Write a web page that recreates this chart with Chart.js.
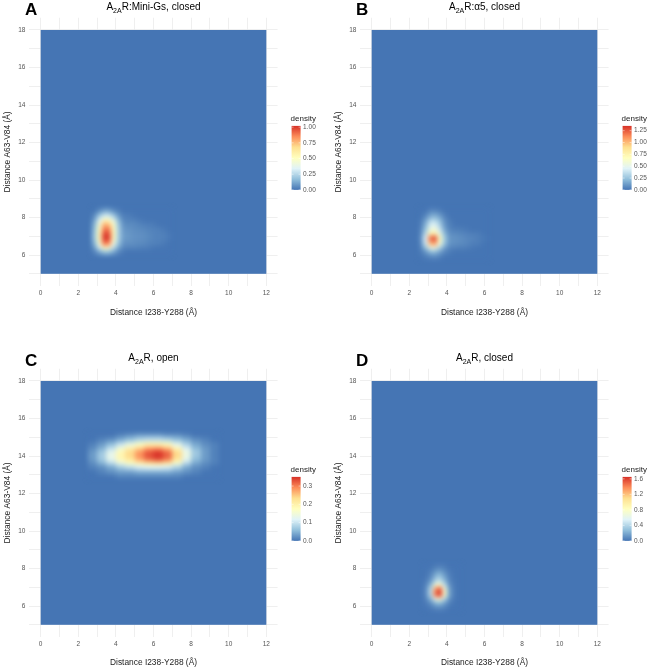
<!DOCTYPE html>
<html>
<head>
<meta charset="utf-8">
<script src="https://cdn.jsdelivr.net/npm/chart.js@4.4.0/dist/chart.umd.min.js"></script>
<style>
  html, body { margin: 0; padding: 0; background: #fff; }
  body { width: 656px; height: 668px; position: relative; overflow: hidden; }
  canvas { position: absolute; }
</style>
</head>
<body>
<canvas id="chartA" width="328" height="334" style="left:0px;top:0px"></canvas>
<canvas id="chartB" width="325" height="334" style="left:331px;top:0px"></canvas>
<canvas id="chartC" width="328" height="334" style="left:0px;top:334px"></canvas>
<canvas id="chartD" width="325" height="334" style="left:331px;top:334px"></canvas>
<script>
// axes
const xTicks = [0, 1, 2, 3, 4, 5, 6, 7, 8, 9, 10, 11, 12];
const yTicks = [5, 6, 7, 8, 9, 10, 11, 12, 13, 14, 15, 16, 17, 18];
const rasterX = [0, 12];
const rasterY = [5, 18];
const xTitle = 'Distance I238-Y288 (Å)';
const yTitle = 'Distance A63-V84 (Å)';

// panel titles: normal, subscript, normal
const aTitle = ['A', '2A', 'R:Mini-Gs, closed'];
const bTitle = ['A', '2A', 'R:α5, closed'];
const cTitle = ['A', '2A', 'R, open'];
const dTitle = ['A', '2A', 'R, closed'];

// A: density cells (cell centres, rows top to bottom)
const aColsX = [2.875, 3.125, 3.375, 3.625, 3.875, 4.125, 4.375, 4.625, 4.875, 5.125, 5.375, 5.625, 5.875, 6.125, 6.375, 6.625, 6.875];
const aRowsY = [8.375, 8.125, 7.875, 7.625, 7.375, 7.125, 6.875, 6.625, 6.375, 6.125];
const aDensity = [
  [0.00, 0.05, 0.10, 0.10, 0.05, 0.02, 0.00, 0.00, 0.00, 0.00, 0.00, 0.00, 0.00, 0.00, 0.00, 0.00, 0.00],
  [0.05, 0.20, 0.30, 0.30, 0.20, 0.08, 0.02, 0.02, 0.01, 0.00, 0.00, 0.00, 0.00, 0.00, 0.00, 0.00, 0.00],
  [0.10, 0.35, 0.52, 0.52, 0.38, 0.15, 0.04, 0.03, 0.03, 0.02, 0.01, 0.00, 0.00, 0.00, 0.00, 0.00, 0.00],
  [0.15, 0.45, 0.78, 0.75, 0.48, 0.20, 0.06, 0.05, 0.05, 0.04, 0.03, 0.02, 0.02, 0.01, 0.00, 0.00, 0.00],
  [0.18, 0.52, 0.90, 0.90, 0.52, 0.22, 0.08, 0.07, 0.06, 0.05, 0.05, 0.04, 0.03, 0.03, 0.02, 0.01, 0.00],
  [0.20, 0.56, 1.00, 0.98, 0.54, 0.22, 0.09, 0.08, 0.07, 0.06, 0.06, 0.05, 0.04, 0.03, 0.03, 0.02, 0.01],
  [0.20, 0.56, 1.02, 1.00, 0.52, 0.22, 0.09, 0.08, 0.07, 0.06, 0.06, 0.05, 0.04, 0.03, 0.03, 0.02, 0.01],
  [0.15, 0.46, 0.90, 0.85, 0.42, 0.18, 0.07, 0.06, 0.06, 0.05, 0.05, 0.04, 0.03, 0.03, 0.02, 0.01, 0.00],
  [0.08, 0.30, 0.50, 0.46, 0.26, 0.10, 0.04, 0.03, 0.03, 0.03, 0.02, 0.02, 0.01, 0.00, 0.00, 0.00, 0.00],
  [0.03, 0.10, 0.16, 0.16, 0.10, 0.04, 0.01, 0.00, 0.00, 0.00, 0.00, 0.00, 0.00, 0.00, 0.00, 0.00, 0.00]
];
const aMax = 1.02;
const aLegendTicks = [0, 0.25, 0.5, 0.75, 1.0];

// B
const bColsX = [2.625, 2.875, 3.125, 3.375, 3.625, 3.875, 4.125, 4.375, 4.625, 4.875, 5.125, 5.375, 5.625, 5.875, 6.125];
const bRowsY = [8.375, 8.125, 7.875, 7.625, 7.375, 7.125, 6.875, 6.625, 6.375, 6.125, 5.875];
const bDensity = [
  [0.00, 0.00, 0.05, 0.05, 0.03, 0.00, 0.00, 0.00, 0.00, 0.00, 0.00, 0.00, 0.00, 0.00, 0.00],
  [0.00, 0.05, 0.15, 0.18, 0.12, 0.04, 0.00, 0.00, 0.00, 0.00, 0.00, 0.00, 0.00, 0.00, 0.00],
  [0.02, 0.12, 0.30, 0.32, 0.22, 0.08, 0.02, 0.00, 0.00, 0.00, 0.00, 0.00, 0.00, 0.00, 0.00],
  [0.03, 0.18, 0.42, 0.45, 0.30, 0.10, 0.03, 0.01, 0.00, 0.00, 0.00, 0.00, 0.00, 0.00, 0.00],
  [0.05, 0.25, 0.55, 0.60, 0.40, 0.15, 0.05, 0.03, 0.03, 0.02, 0.01, 0.00, 0.00, 0.00, 0.00],
  [0.06, 0.35, 0.80, 0.85, 0.55, 0.22, 0.08, 0.07, 0.06, 0.05, 0.04, 0.03, 0.03, 0.01, 0.00],
  [0.08, 0.45, 1.20, 1.35, 0.70, 0.28, 0.10, 0.09, 0.08, 0.07, 0.05, 0.05, 0.03, 0.02, 0.01],
  [0.06, 0.40, 1.00, 1.10, 0.60, 0.25, 0.09, 0.08, 0.07, 0.06, 0.05, 0.03, 0.03, 0.01, 0.00],
  [0.04, 0.22, 0.50, 0.55, 0.32, 0.12, 0.05, 0.04, 0.03, 0.03, 0.02, 0.01, 0.00, 0.00, 0.00],
  [0.02, 0.08, 0.18, 0.20, 0.12, 0.05, 0.02, 0.00, 0.00, 0.00, 0.00, 0.00, 0.00, 0.00, 0.00],
  [0.00, 0.02, 0.04, 0.05, 0.03, 0.00, 0.00, 0.00, 0.00, 0.00, 0.00, 0.00, 0.00, 0.00, 0.00]
];
const bMax = 1.35;
const bLegendTicks = [0, 0.25, 0.5, 0.75, 1.0, 1.25];

// C
const cColsX = [2.75, 3.25, 3.75, 4.25, 4.75, 5.25, 5.75, 6.25, 6.75, 7.25, 7.75, 8.25, 8.75, 9.25];
const cRowsY = [15.125, 14.875, 14.625, 14.375, 14.125, 13.875, 13.625, 13.375, 13.125, 12.875];
const cDensity = [
  [0.00, 0.00, 0.00, 0.01, 0.02, 0.03, 0.03, 0.03, 0.02, 0.02, 0.01, 0.00, 0.00, 0.00],
  [0.00, 0.01, 0.02, 0.04, 0.06, 0.08, 0.09, 0.09, 0.08, 0.06, 0.04, 0.02, 0.01, 0.00],
  [0.01, 0.03, 0.06, 0.10, 0.14, 0.17, 0.20, 0.20, 0.18, 0.13, 0.08, 0.04, 0.02, 0.01],
  [0.02, 0.05, 0.10, 0.16, 0.21, 0.25, 0.29, 0.30, 0.27, 0.20, 0.12, 0.06, 0.03, 0.01],
  [0.03, 0.07, 0.13, 0.19, 0.24, 0.29, 0.33, 0.35, 0.32, 0.24, 0.14, 0.07, 0.03, 0.01],
  [0.03, 0.07, 0.13, 0.19, 0.23, 0.28, 0.32, 0.34, 0.31, 0.23, 0.13, 0.06, 0.03, 0.01],
  [0.02, 0.05, 0.09, 0.14, 0.17, 0.20, 0.23, 0.24, 0.22, 0.16, 0.09, 0.04, 0.02, 0.01],
  [0.01, 0.02, 0.04, 0.07, 0.09, 0.11, 0.12, 0.12, 0.11, 0.08, 0.04, 0.02, 0.01, 0.00],
  [0.00, 0.01, 0.02, 0.03, 0.03, 0.04, 0.04, 0.04, 0.04, 0.03, 0.02, 0.01, 0.00, 0.00],
  [0.00, 0.00, 0.00, 0.01, 0.01, 0.01, 0.01, 0.01, 0.01, 0.01, 0.00, 0.00, 0.00, 0.00]
];
const cMax = 0.35;
const cLegendTicks = [0, 0.1, 0.2, 0.3];

// D
const dColsX = [2.875, 3.125, 3.375, 3.625, 3.875, 4.125, 4.375, 4.625];
const dRowsY = [8.125, 7.875, 7.625, 7.375, 7.125, 6.875, 6.625, 6.375, 6.125, 5.875];
const dDensity = [
  [0.00, 0.00, 0.03, 0.05, 0.03, 0.00, 0.00, 0.00],
  [0.00, 0.03, 0.10, 0.15, 0.08, 0.02, 0.00, 0.00],
  [0.00, 0.06, 0.20, 0.28, 0.15, 0.04, 0.00, 0.00],
  [0.02, 0.12, 0.35, 0.45, 0.25, 0.06, 0.01, 0.00],
  [0.04, 0.25, 0.70, 0.85, 0.45, 0.10, 0.02, 0.00],
  [0.06, 0.40, 1.30, 1.60, 0.75, 0.15, 0.03, 0.00],
  [0.06, 0.40, 1.40, 1.65, 0.80, 0.16, 0.03, 0.00],
  [0.04, 0.22, 0.60, 0.75, 0.40, 0.10, 0.02, 0.00],
  [0.02, 0.08, 0.20, 0.25, 0.14, 0.04, 0.00, 0.00],
  [0.00, 0.02, 0.05, 0.06, 0.04, 0.00, 0.00, 0.00]
];
const dMax = 1.65;
const dLegendTicks = [0, 0.4, 0.8, 1.2, 1.6];

// RdYlBu, low to high
const palette = ['#4575B4', '#91BFDB', '#E0F3F8', '#FFFFBF', '#FEE090', '#FC8D59', '#D73027'];

const FONT = "'Liberation Sans', Arial, sans-serif";
Chart.defaults.font.family = FONT;

function hexToRgb(h) {
  const n = parseInt(h.slice(1), 16);
  return [(n >> 16) & 255, (n >> 8) & 255, n & 255];
}
const paletteRgb = palette.map(hexToRgb);

function colorAt(t) {
  t = Math.max(0, Math.min(1, t));
  const pos = t * (paletteRgb.length - 1);
  const i = Math.min(Math.floor(pos), paletteRgb.length - 2);
  const f = pos - i;
  const a = paletteRgb[i], b = paletteRgb[i + 1];
  const c = a.map((v, k) => Math.round(v + (b[k] - v) * f));
  return `rgb(${c[0]},${c[1]},${c[2]})`;
}

function buildCells(colsX, rowsY, dens) {
  const w = Math.abs(colsX[1] - colsX[0]);
  const h = Math.abs(rowsY[1] - rowsY[0]);
  const cells = [];
  rowsY.forEach((y, i) => {
    colsX.forEach((x, j) => {
      cells.push({ x: x, y: y, w: w, h: h, v: dens[i][j] });
    });
  });
  return cells;
}

// raster + density cells, drawn through the scales
const heatmapPlugin = {
  id: 'heatmap',
  beforeDatasetsDraw(chart, args, opts) {
    const ctx = chart.ctx;
    const xs = chart.scales.x, ys = chart.scales.y;
    const l = xs.getPixelForValue(rasterX[0]);
    const r = xs.getPixelForValue(rasterX[1]);
    const t = ys.getPixelForValue(rasterY[1]);
    const b = ys.getPixelForValue(rasterY[0]);
    ctx.save();
    ctx.fillStyle = colorAt(0);
    ctx.fillRect(l, t, r - l, b - t);

    const off = document.createElement('canvas');
    off.width = chart.width;
    off.height = chart.height;
    const oc = off.getContext('2d');
    chart.data.datasets[0].data.forEach(c => {
      const x0 = Math.round(xs.getPixelForValue(c.x - c.w / 2));
      const x1 = Math.round(xs.getPixelForValue(c.x + c.w / 2));
      const y0 = Math.round(ys.getPixelForValue(c.y + c.h / 2));
      const y1 = Math.round(ys.getPixelForValue(c.y - c.h / 2));
      oc.fillStyle = colorAt(c.v / opts.max);
      oc.fillRect(x0, y0, x1 - x0, y1 - y0);
    });

    ctx.beginPath();
    ctx.rect(l, t, r - l, b - t);
    ctx.clip();
    ctx.filter = 'blur(' + opts.blur + 'px)';
    ctx.drawImage(off, 0, 0);
    ctx.restore();
  }
};

const colorbarPlugin = {
  id: 'colorbar',
  afterDraw(chart, args, opts) {
    const { ctx, chartArea } = chart;
    const barL = chartArea.right + 14;
    const barW = 9, barH = 64;
    const mid = (chartArea.top + chartArea.bottom) / 2;
    const barT = mid - 26, barB = barT + barH;
    ctx.save();
    ctx.fillStyle = '#222';
    ctx.font = '8px ' + FONT;
    ctx.textAlign = 'left';
    ctx.textBaseline = 'alphabetic';
    ctx.fillText('density', barL - 1, barT - 5);

    const grad = ctx.createLinearGradient(0, barB, 0, barT);
    palette.forEach((c, i) => grad.addColorStop(i / (palette.length - 1), c));
    ctx.fillStyle = grad;
    ctx.fillRect(barL, barT, barW, barH);

    ctx.font = '6.5px ' + FONT;
    ctx.textBaseline = 'middle';
    ctx.strokeStyle = 'rgba(255,255,255,0.8)';
    ctx.lineWidth = 0.6;
    opts.ticks.forEach(v => {
      const y = barB - (v / opts.max) * barH;
      ctx.beginPath();
      ctx.moveTo(barL, y); ctx.lineTo(barL + 2, y);
      ctx.moveTo(barL + barW - 2, y); ctx.lineTo(barL + barW, y);
      ctx.stroke();
      ctx.fillStyle = '#555';
      ctx.fillText(v.toFixed(opts.digits), barL + barW + 2.5, y);
    });
    ctx.restore();
  }
};

const panelTitlePlugin = {
  id: 'panelTitle',
  afterDraw(chart, args, opts) {
    const { ctx, chartArea } = chart;
    const base = chartArea.top - 7.8;
    ctx.save();
    ctx.fillStyle = '#000';
    ctx.textAlign = 'left';
    ctx.textBaseline = 'alphabetic';
    ctx.font = 'bold 17px ' + FONT;
    ctx.fillText(opts.letter, 25, base + 5.2);

    const mainFont = '10px ' + FONT, subFont = '7px ' + FONT;
    let total = 0;
    opts.title.forEach((s, i) => {
      ctx.font = i % 2 ? subFont : mainFont;
      total += ctx.measureText(s).width;
    });
    let x = (chartArea.left + chartArea.right) / 2 - total / 2;
    opts.title.forEach((s, i) => {
      ctx.font = i % 2 ? subFont : mainFont;
      ctx.fillText(s, x, i % 2 ? base + 2.5 : base);
      x += ctx.measureText(s).width;
    });
    ctx.restore();
  }
};

function makePanel(id, cfg) {
  return new Chart(document.getElementById(id), {
    type: 'scatter',
    data: {
      datasets: [{
        data: buildCells(cfg.colsX, cfg.rowsY, cfg.dens),
        pointRadius: 0,
        pointHoverRadius: 0
      }]
    },
    options: {
      responsive: false,
      animation: false,
      devicePixelRatio: 1,
      events: [],
      layout: { padding: cfg.padding },
      plugins: {
        legend: { display: false },
        tooltip: { enabled: false },
        heatmap: { max: cfg.max, blur: 2.6 },
        colorbar: { max: cfg.max, ticks: cfg.legendTicks, digits: cfg.digits },
        panelTitle: { letter: cfg.letter, title: cfg.title }
      },
      scales: {
        x: {
          type: 'linear',
          min: -0.6,
          max: 12.6,
          afterBuildTicks: s => { s.ticks = xTicks.map(v => ({ value: v })); },
          afterFit: s => { s.height = cfg.xHeight; },
          ticks: {
            autoSkip: false,
            maxRotation: 0,
            padding: 3,
            color: '#555',
            font: { size: 6.5 },
            callback: v => (v % 2 === 0 ? v : '')
          },
          grid: { color: '#EBEBEB', lineWidth: 0.8, drawTicks: false },
          border: { display: false },
          title: { display: true, text: xTitle, color: '#222', font: { size: 8.4 }, padding: { top: 0, bottom: 0 } }
        },
        y: {
          type: 'linear',
          min: 4.35,
          max: 18.65,
          afterBuildTicks: s => { s.ticks = yTicks.map(v => ({ value: v })); },
          afterFit: s => { s.width = 29.4; },
          ticks: {
            autoSkip: false,
            padding: 4,
            color: '#555',
            font: { size: 6.5 },
            callback: v => (v % 2 === 0 ? v : '')
          },
          grid: { color: '#EBEBEB', lineWidth: 0.8, drawTicks: false },
          border: { display: false },
          title: { display: true, text: yTitle, color: '#222', font: { size: 8.4 }, padding: { top: 2.5, bottom: 0 } }
        }
      }
    },
    plugins: [heatmapPlugin, colorbarPlugin, panelTitlePlugin]
  });
}

makePanel('chartA', {
  letter: 'A', title: aTitle, colsX: aColsX, rowsY: aRowsY, dens: aDensity,
  max: aMax, legendTicks: aLegendTicks, digits: 2,
  padding: { top: 17.8, right: 50.4, bottom: 16, left: 0 }, xHeight: 32
});
makePanel('chartB', {
  letter: 'B', title: bTitle, colsX: bColsX, rowsY: bRowsY, dens: bDensity,
  max: bMax, legendTicks: bLegendTicks, digits: 2,
  padding: { top: 17.8, right: 47.4, bottom: 16, left: 0 }, xHeight: 32
});
makePanel('chartC', {
  letter: 'C', title: cTitle, colsX: cColsX, rowsY: cRowsY, dens: cDensity,
  max: cMax, legendTicks: cLegendTicks, digits: 1,
  padding: { top: 34.8, right: 50.4, bottom: 0, left: 0 }, xHeight: 31
});
makePanel('chartD', {
  letter: 'D', title: dTitle, colsX: dColsX, rowsY: dRowsY, dens: dDensity,
  max: dMax, legendTicks: dLegendTicks, digits: 1,
  padding: { top: 34.8, right: 47.4, bottom: 0, left: 0 }, xHeight: 31
});
</script>
</body>
</html>
